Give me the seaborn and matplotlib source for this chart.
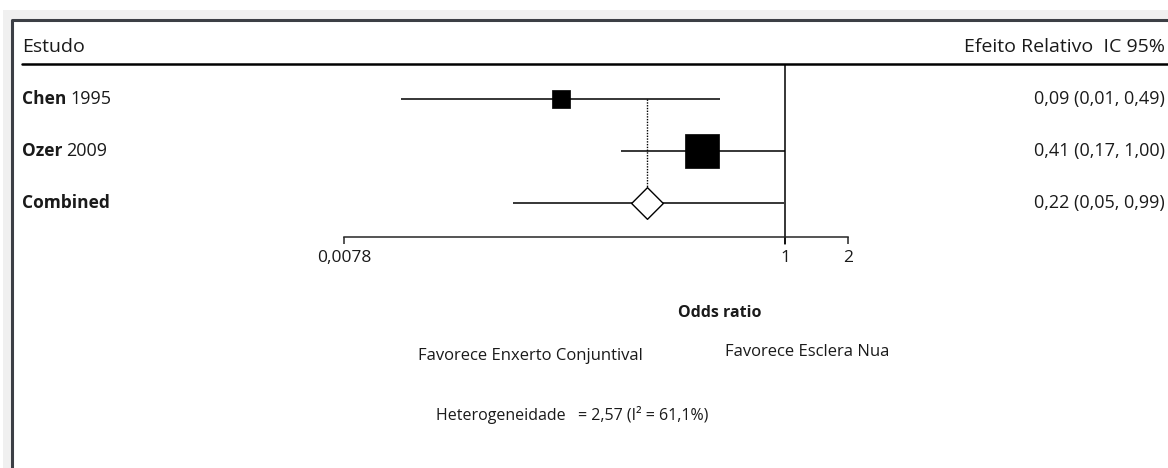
import numpy as np
import pandas as pd
import matplotlib
matplotlib.use("Agg")
import matplotlib.pyplot as plt
import seaborn as sns
from matplotlib.patches import Rectangle
from matplotlib.lines import Line2D

# Study data (odds ratios)
study_names = ["Chen", "Ozer", "Combined"]
study_years = ["1995", "2009", ""]
odds_ratio = [0.085, 0.40, 0.22]
ci_low = [0.0147, 0.165, 0.05]
ci_high = [0.49, 1.00, 0.99]
weights = [21.0, 79.0]
effect_labels = ["0,09 (0,01, 0,49)", "0,41 (0,17, 1,00)", "0,22 (0,05, 0,99)"]
tick_values = [2 ** -7, 1, 2]
tick_labels = ["0,0078", "1", "2"]

W, H = 1168, 468
sns.set_style("white")
plt.rcParams['font.family'] = ['Open Sans', 'DejaVu Sans']
txt_color = "#1a1a1a"

fig = plt.figure(figsize=(W / 100, H / 100), dpi=100)

# window-like frame
fig.patches.append(Rectangle((3 / W, 0), 1, 1 - 10 / H, transform=fig.transFigure,
                             facecolor="#f0f0f0", edgecolor="none", zorder=-3))
fig.patches.append(Rectangle((13 / W, 0), 1, 1 - 21 / H, transform=fig.transFigure,
                             facecolor="white", edgecolor="none", zorder=-2))
fig.lines.append(Line2D([11.5 / W, 11.5 / W, 1], [0, 1 - 19.5 / H, 1 - 19.5 / H],
                        transform=fig.transFigure, color="#3c3f45", lw=2.2))
# header underline
fig.lines.append(Line2D([22 / W, 1], [1 - 63.5 / H] * 2, transform=fig.transFigure,
                        color="black", lw=1.8))

# forest axes: x from 2^-7 to 2 spans pixel 344..848
ax_left, ax_right = 344, 848
ax_top, ax_bot = 65, 237
ax = fig.add_axes([ax_left / W, 1 - ax_bot / H, (ax_right - ax_left) / W, (ax_bot - ax_top) / H])
ax.set_xscale("log", base=2)
ax.set_xlim(2 ** -7, 2)
ypix = [99, 151, 203]
row_h = (ypix[2] - ypix[0]) / 2
y_top = -(ypix[0] - ax_top) / row_h
y_bot = 2 + (ax_bot - ypix[2]) / row_h
ax.set_ylim(y_bot, y_top)
ax.patch.set_alpha(0)

df = pd.DataFrame({"study": study_names, "or": odds_ratio, "lo": ci_low, "hi": ci_high,
                   "y": np.arange(len(study_names))})

# CI lines
ax.hlines(df["y"], df["lo"], df["hi"], color="black", lw=1.1, zorder=2)

# vertical line at OR = 1
ax.plot([1, 1], [y_top, y_bot + 7 / row_h], color="black", lw=1.1, clip_on=False, zorder=2)

# dotted line at pooled estimate
ax.plot([odds_ratio[2], odds_ratio[2]], [0, 2], color="black", lw=1.0, ls=(0, (1, 1)), zorder=1)

# study squares sized by weight
sq = df.iloc[:2].copy()
sq["w"] = weights
for _, r in sq.iterrows():
    sns.scatterplot(x=[r["or"]], y=[r["y"]], marker="s", s=r["w"] * 8, color="black",
                    edgecolor="black", linewidth=0.5, ax=ax, zorder=3, legend=False)

# pooled diamond
sns.scatterplot(x=[odds_ratio[2]], y=[2], marker="D", s=260, facecolor="white",
                edgecolor="black", linewidth=1.0, ax=ax, zorder=3, legend=False)

# axis styling
for s in ["top", "right", "left"]:
    ax.spines[s].set_visible(False)
ax.spines["bottom"].set_linewidth(1.1)
ax.set_yticks([])
ax.set_xticks(tick_values)
ax.set_xticklabels(tick_labels, fontsize=12.5, color=txt_color)
ax.xaxis.set_minor_locator(matplotlib.ticker.NullLocator())
ax.tick_params(axis="x", direction="out", length=5, width=1.1, pad=4, bottom=True)
ax.set_xlabel("")
ax.set_ylabel("")

# texts in pixel coordinates
def ftext(x, y, s, fs, **kw):
    kw.setdefault("color", txt_color)
    return fig.text(x / W, 1 - y / H, s, va="center", fontsize=fs, **kw)

ftext(22, 47, "Estudo", 14)
ftext(1165, 47, "Efeito Relativo  IC 95%", 14, ha="right")
for i, (n, yr) in enumerate(zip(study_names, study_years)):
    t = ftext(22, ypix[i], n, 12.5, fontweight="bold")
    if yr:
        fig.canvas.draw()
        bb = t.get_window_extent()
        ftext(bb.x1 + 4, ypix[i], yr, 13)
    ftext(1165, ypix[i], effect_labels[i], 13, ha="right")

ftext(720, 313, "Odds ratio", 11.5, ha="center", fontweight="bold")
ftext(530, 356, "Favorece Enxerto Conjuntival", 12, ha="center")
ftext(807, 352, "Favorece Esclera Nua", 12, ha="center")
ftext(572, 415, "Heterogeneidade   = 2,57 (I² = 61,1%)", 11.5, ha="center")

fig.savefig("out.png", dpi=100)
